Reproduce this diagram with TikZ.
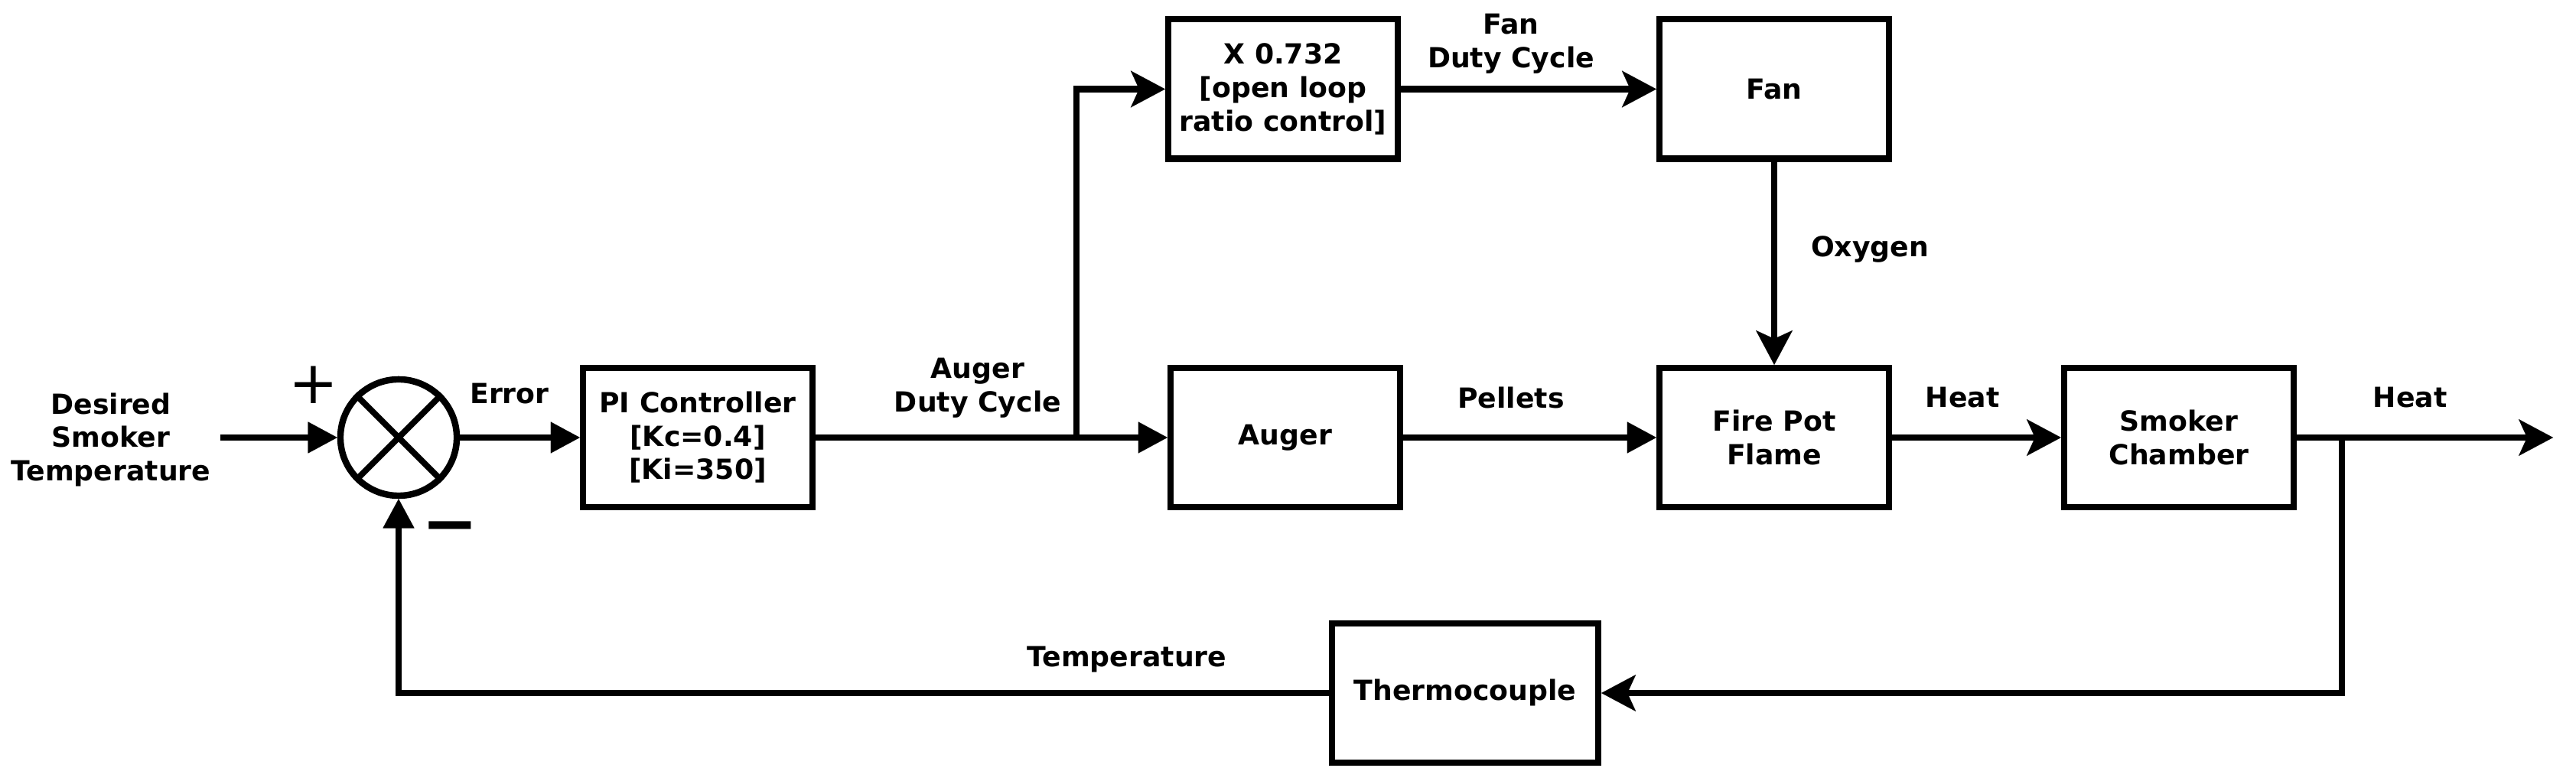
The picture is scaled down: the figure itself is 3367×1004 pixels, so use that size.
\documentclass[tikz,border=0pt]{standalone}
\usepackage{fontspec}
\setmainfont{DejaVu Sans}
\usetikzlibrary{arrows.meta}
\begin{document}
\begin{tikzpicture}[x=0.01cm,y=-0.01cm,
  every node/.style={font=\fontsize{10.3}{12.4}\selectfont\bfseries},
  blk/.style={draw, line width=2.3pt, minimum width=3cm, minimum height=1.82cm, align=center, inner sep=0pt},
  lbl/.style={align=center, inner sep=0pt},
  conn/.style={line width=2.3pt, -{Triangle[length=0.38cm,width=0.41cm,line width=0.01pt]}},
  sconn/.style={line width=2.3pt, -{Stealth[length=0.45cm,width=0.48cm,inset=0.11cm,line width=0.01pt]}},
  wire/.style={line width=2.3pt},
  sign/.style={inner sep=0pt}]
\fill[white] (0,0) rectangle (3367,1004);
\useasboundingbox (0,0) rectangle (3367,1004);

\node[circle, draw, line width=2.4pt, minimum size=1.52cm, inner sep=0pt] (sum) at (521,572) {};
\draw[wire] (sum.north west) -- (sum.south east);
\draw[wire] (sum.north east) -- (sum.south west);

\node[lbl] (input) at (145,575) {Desired\\Smoker\\Temperature};
\coordinate (inp) at (288,572);
\draw[conn] (inp) -- (sum.west);

\node[sign] (plus) at (410,503) {\fontsize{22}{22}\selectfont\mdseries +};
\node[sign] (minus) at (588,698) {\fontsize{25}{25}\selectfont −};

\node[lbl] (err) at (666,515) {Error};
\node[blk] (pi) at (912,572) {PI Controller\\{[Kc=0.4]}\\{[Ki=350]}};
\draw[conn] (sum.east) -- (pi.west);

\node[blk] (auger) at (1680,572) {Auger};
\draw[conn] (pi.east) -- (auger.west);
\coordinate (ab) at (1407,572);

\node[blk] (ratio) at (1677,116.5) {X 0.732\\{[open loop}\\ratio control]};
\draw[sconn] (ab) |- (ratio.west);
\node[lbl] (adc) at (1278,507) {Auger\\Duty Cycle};

\node[blk] (fan) at (2319,116.5) {Fan};
\draw[sconn] (ratio.east) -- (fan.west);
\node[lbl] (fdc) at (1975,57) {Fan\\Duty Cycle};

\node[blk] (fire) at (2319,572) {Fire Pot\\Flame};
\draw[sconn] (fan.south) -- (fire.north);
\node[lbl] (oxy) at (2444,326) {Oxygen};
\draw[conn] (auger.east) -- (fire.west);
\node[lbl] (pel) at (1975,520) {Pellets};

\node[blk] (smoke) at (2848,572) {Smoker\\Chamber};
\draw[sconn] (fire.east) -- (smoke.west);
\node[lbl] (heat1) at (2565,520) {Heat};

\coordinate (br) at (3061,572);
\coordinate (out) at (3337,572);
\draw[sconn] (smoke.east) -- (out);
\node[lbl] (heat2) at (3150,520) {Heat};

\node[blk, minimum width=3.48cm] (tc) at (1915,906) {Thermocouple};
\draw[sconn] (br) |- (tc.east);
\draw[conn] (tc.west) -| (sum.south);
\node[lbl] (temp) at (1473,862) {Temperature};
\end{tikzpicture}
\end{document}
